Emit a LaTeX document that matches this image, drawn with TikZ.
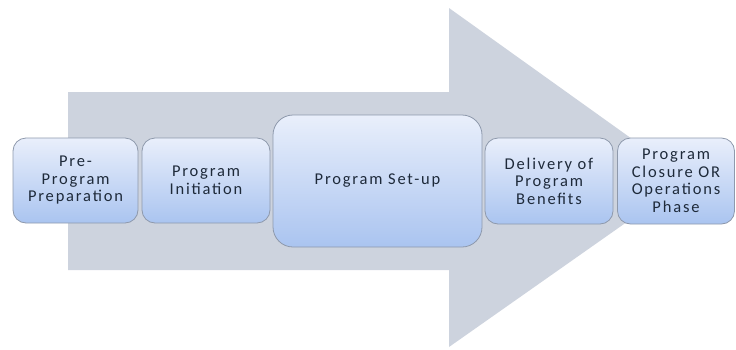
\documentclass[tikz,border=0pt]{standalone}
\usepackage{fontspec}
\setmainfont{Carlito}[LetterSpace=11]
\usetikzlibrary{positioning}
\definecolor{arrowgray}{HTML}{CDD3DE}
\definecolor{boxtop}{HTML}{E9EFFB}
\definecolor{boxbot}{HTML}{AAC4F0}
\definecolor{boxline}{HTML}{8E99AC}
\definecolor{phasetext}{HTML}{1E2A3A}

\begin{document}
\begin{tikzpicture}[
  x=1pt, y=-1pt,
  font=\fontsize{16.5}{17.5}\selectfont,
  phase/.style={draw=boxline,line width=0.8pt,rounded corners=13pt,align=center,
    top color=boxtop,bottom color=boxbot,text=phasetext,inner sep=1pt},
]
\useasboundingbox (0,0) rectangle (736,349);
% big arrow behind the phases
\fill[arrowgray] (68,92) -- (449,92) -- (449,8) -- (688,179) -- (449,347)
  -- (449,270) -- (68,270) -- cycle;
% phases
\node[phase,minimum width=125pt,minimum height=85pt] (prep) at (75.5,180.5)
  {Pre-\\Program\\Preparation};
\node[phase,minimum width=128pt,minimum height=85pt] (init) at (206,180.5)
  {Program\\Initiation};
\node[phase,minimum width=209pt,minimum height=132pt,rounded corners=20pt] (setup) at (377.5,181)
  {Program Set-up};
\node[phase,minimum width=128pt,minimum height=86pt] (deliv) at (549,181)
  {Delivery of\\Program\\Benefits};
\node[phase,minimum width=117pt,minimum height=86pt] (close) at (676,181)
  {Program\\Closure OR\\Operations\\Phase};
\end{tikzpicture}
\end{document}
